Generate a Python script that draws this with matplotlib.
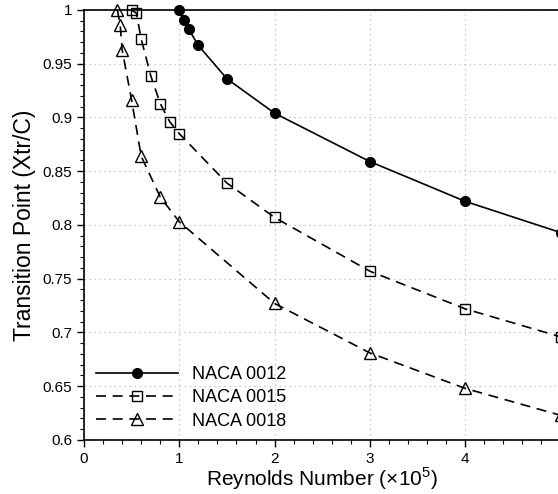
import matplotlib
matplotlib.use('Agg')
import matplotlib.pyplot as plt
from matplotlib.ticker import MultipleLocator, FuncFormatter, FixedLocator

plt.rcParams['font.family'] = ['Liberation Sans', 'DejaVu Sans']
plt.rcParams['mathtext.fontset'] = 'custom'
plt.rcParams['mathtext.rm'] = 'Liberation Sans'

# Reynolds number (x1e5) vs transition point
re_0012 = [1.0, 1.05, 1.1, 1.2, 1.5, 2, 3, 4, 5]
xtr_0012 = [1.0, 0.991, 0.982, 0.967, 0.936, 0.904, 0.859, 0.822, 0.793]

re_0015 = [0.5, 0.55, 0.6, 0.7, 0.8, 0.9, 1.0, 1.5, 2, 3, 4, 5]
xtr_0015 = [1.0, 0.997, 0.973, 0.939, 0.913, 0.896, 0.885, 0.839, 0.807, 0.757, 0.722, 0.696]

re_0018 = [0.35, 0.38, 0.4, 0.5, 0.6, 0.8, 1.0, 2, 3, 4, 5]
xtr_0018 = [1.0, 0.986, 0.963, 0.916, 0.864, 0.826, 0.803, 0.727, 0.681, 0.648, 0.623]

x_ticks = [0, 1, 2, 3, 4]

fig = plt.figure(figsize=(5.58, 4.94), dpi=100)
ax = fig.add_axes([84 / 558, 1 - 440 / 494, (560.5 - 84) / 558, 430 / 494])

ax.plot(re_0012, xtr_0012, color='k', lw=1.2, marker='o', ms=7,
        label='NACA 0012', clip_on=False, zorder=3)
ax.plot(re_0015, xtr_0015, color='k', lw=1.2, dashes=(6, 4), marker='s', ms=7,
        mfc='none', mew=1.0, label='NACA 0015', clip_on=False, zorder=3)
ax.plot(re_0018, xtr_0018, color='k', lw=1.2, dashes=(6, 4), marker='^', ms=8,
        mfc='none', mew=1.0, label='NACA 0018', clip_on=False, zorder=3)

ax.set_xlim(0, 5)
ax.set_ylim(0.6, 1.0)
ax.xaxis.set_major_locator(FixedLocator(x_ticks))
ax.xaxis.set_minor_locator(MultipleLocator(0.2))
ax.yaxis.set_major_locator(MultipleLocator(0.05))
ax.yaxis.set_minor_locator(MultipleLocator(0.01))
ax.yaxis.set_major_formatter(FuncFormatter(lambda v, p: '%g' % round(v, 2)))

ax.tick_params(which='major', direction='out', length=5, width=1, labelsize=11)
ax.tick_params(which='minor', direction='out', length=3, width=0.8)
ax.grid(True, which='major', color='#bbbbbb', linestyle=(0, (1, 3)), lw=0.9)

for s in ['left', 'bottom', 'top']:
    ax.spines[s].set_linewidth(1.2)
ax.spines['right'].set_visible(False)

ax.set_xlabel(r'Reynolds Number ($\times$10$^5$)', fontsize=15, labelpad=0)
ax.set_ylabel('Transition Point (Xtr/C)', fontsize=16.5, labelpad=5)

ax.legend(loc='lower left', frameon=False, fontsize=13, handlelength=4.5,
          handletextpad=0.8, labelspacing=0.35, borderaxespad=0.6,
          bbox_to_anchor=(-0.012, -0.018))

fig.savefig('out.png', dpi=100)
